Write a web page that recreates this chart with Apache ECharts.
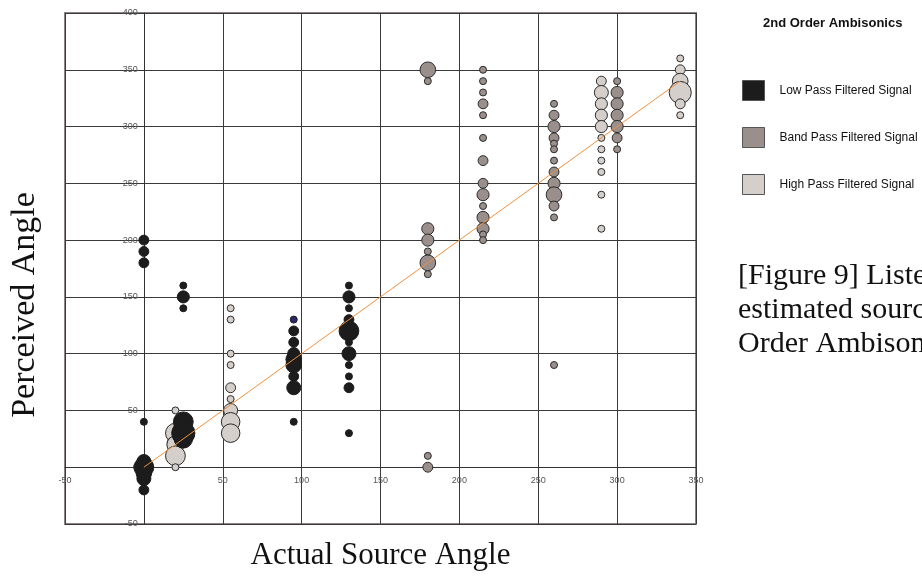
<!DOCTYPE html>
<html>
<head>
<meta charset="utf-8">
<title>2nd Order Ambisonics</title>
<script src="https://cdn.jsdelivr.net/npm/echarts@6/dist/echarts.min.js"></script>
<style>
  html, body { margin: 0; padding: 0; background: #fff; }
  #chart { width: 922px; height: 577px; }
</style>
</head>
<body>
<div id="chart"></div>
<script>
  // [actual source angle, perceived angle, number of answers]
  const lowPass = [
    [0, 200, 2], [0, 190, 2], [0, 180, 2], [0, 40, 1],
    [0, 5, 4], [0, 0, 8], [0, -5, 5], [0, -10, 4], [0, -20, 2],
    [25, 160, 1], [25, 150, 3], [25, 140, 1],
    [25, 40, 8], [25, 35, 7], [25, 30, 11], [25, 25, 7],
    [95, 120, 2], [95, 110, 2], [95, 100, 3], [95, 95, 5], [95, 90, 5],
    [95, 80, 2], [95, 70, 4], [95, 40, 1],
    [130, 160, 1], [130, 150, 3], [130, 140, 1], [130, 130, 2], [130, 120, 8],
    [130, 110, 1], [130, 100, 4], [130, 90, 1], [130, 80, 1], [130, 70, 2], [130, 30, 1]
  ];
  const bandPass = [
    [180, 350, 5], [180, 340, 1], [180, 210, 3], [180, 200, 3], [180, 190, 1],
    [180, 180, 5], [180, 170, 1], [180, 10, 1], [180, 0, 2],
    [215, 350, 1], [215, 340, 1], [215, 330, 1], [215, 320, 2], [215, 310, 1],
    [215, 290, 1], [215, 270, 2], [215, 250, 2], [215, 240, 3], [215, 230, 1],
    [215, 220, 3], [215, 210, 3], [215, 205, 1], [215, 200, 1],
    [260, 320, 1], [260, 310, 2], [260, 300, 3], [260, 290, 2], [260, 285, 1],
    [260, 280, 1], [260, 270, 1], [260, 260, 2], [260, 250, 3], [260, 240, 5],
    [260, 230, 2], [260, 220, 1], [260, 90, 1],
    [300, 340, 1], [300, 330, 3], [300, 320, 3], [300, 310, 3], [300, 300, 3],
    [300, 290, 2], [300, 280, 1]
  ];
  const highPass = [
    [20, 50, 1], [20, 30, 8], [20, 20, 6], [20, 10, 8], [20, 0, 1],
    [55, 140, 1], [55, 130, 1], [55, 100, 1], [55, 90, 1], [55, 70, 2],
    [55, 60, 1], [55, 50, 4], [55, 40, 7], [55, 30, 7],
    [290, 340, 2], [290, 330, 4], [290, 320, 3], [290, 310, 3], [290, 300, 3],
    [290, 290, 1], [290, 280, 1], [290, 270, 1], [290, 260, 1], [290, 240, 1], [290, 210, 1],
    [340, 360, 1], [340, 350, 2], [340, 340, 5], [340, 330, 10], [340, 320, 2], [340, 310, 1]
  ];
  const strayPoint = [[95, 130, 1]];
  const idealLine = [[0, 0], [340, 340]];
  const xRange = [-50, 350];
  const yRange = [-50, 400];
  const seriesNames = ['Low Pass Filtered Signal', 'Band Pass Filtered Signal', 'High Pass Filtered Signal'];
  const captionLines = ["[Figure 9] Listeners'", 'estimated source angles for 2nd', 'Order Ambisonics'];

  let myChart = echarts.init(document.getElementById('chart'))

  const gridBox = { left: 65, right: 226, top: 13, bottom: 53 };
  const plotW = 922 - gridBox.left - gridBox.right;
  const plotH = 577 - gridBox.top - gridBox.bottom;
  // axes cross at zero: shift them in from the grid edge
  const xAxisShift = -plotH * (0 - yRange[0]) / (yRange[1] - yRange[0]);
  const yAxisShift = -plotW * (0 - xRange[0]) / (xRange[1] - xRange[0]);

  const bubbleSize = function (v) {
    return 7 * Math.sqrt(v[2]);
  };

  let option = {
    animation: false,
    title: {
      text: '2nd Order Ambisonics',
      left: 758,
      top: 12,
      textStyle: { fontFamily: 'Liberation Sans', fontSize: 13, fontWeight: 'bold', color: '#111' }
    },
    legend: {
      data: seriesNames,
      orient: 'vertical',
      left: 737,
      top: 75,
      itemWidth: 22,
      itemHeight: 20,
      itemGap: 26,
      icon: 'rect',
      itemStyle: { borderColor: '#555', borderWidth: 1 },
      textStyle: { fontFamily: 'Liberation Sans', fontSize: 12, color: '#111', padding: [0, 0, 0, 10] }
    },
    grid: {
      left: gridBox.left,
      right: gridBox.right,
      top: gridBox.top,
      bottom: gridBox.bottom,
      containLabel: false,
      outerBoundsMode: 'none',
      show: true,
      borderColor: '#8c8482',
      borderWidth: 2
    },
    xAxis: {
      type: 'value',
      min: xRange[0],
      max: xRange[1],
      interval: 50,
      offset: xAxisShift,
      name: 'Actual Source Angle',
      nameLocation: 'middle',
      nameGap: 73,
      nameTextStyle: { fontFamily: 'Liberation Serif', fontSize: 31, color: '#111' },
      axisLine: { onZero: false, lineStyle: { color: '#333' } },
      axisTick: { show: false },
      axisLabel: { fontFamily: 'Liberation Sans', fontSize: 9, color: '#555', margin: 9 },
      splitLine: { lineStyle: { color: '#3a3a3a', width: 1 } }
    },
    yAxis: {
      type: 'value',
      min: yRange[0],
      max: yRange[1],
      interval: 50,
      offset: yAxisShift,
      axisLine: { onZero: false, lineStyle: { color: '#333' } },
      axisTick: { show: true, length: 4, lineStyle: { color: '#333' } },
      axisLabel: { fontFamily: 'Liberation Sans', fontSize: 9, color: '#555', margin: 6 },
      splitLine: { lineStyle: { color: '#3a3a3a', width: 1 } }
    },
    graphic: [
      {
        type: 'text',
        x: 25,
        y: 305,
        rotation: Math.PI / 2,
        style: {
          text: 'Perceived Angle',
          font: '34px "Liberation Serif"',
          fill: '#111',
          align: 'center',
          verticalAlign: 'middle'
        }
      },
      {
        type: 'text',
        left: 738,
        top: 259,
        style: {
          text: captionLines.join('\n'),
          font: '30px "Liberation Serif"',
          lineHeight: 34,
          fill: '#111'
        }
      }
    ],
    series: [
      {
        name: seriesNames[2],
        type: 'scatter',
        data: highPass,
        z: 2,
        symbolSize: bubbleSize,
        itemStyle: { color: '#d5cfcc', borderColor: '#2a2a2a', borderWidth: 1, opacity: 1 }
      },
      {
        name: seriesNames[1],
        type: 'scatter',
        data: bandPass,
        z: 3,
        symbolSize: bubbleSize,
        itemStyle: { color: '#9b8f8c', borderColor: '#2a2a2a', borderWidth: 1, opacity: 1 }
      },
      {
        name: seriesNames[0],
        type: 'scatter',
        data: lowPass,
        z: 4,
        symbolSize: bubbleSize,
        itemStyle: { color: '#1c1c1c', borderColor: '#1c1c1c', borderWidth: 1, opacity: 1 }
      },
      {
        name: 'stray',
        type: 'scatter',
        data: strayPoint,
        z: 4,
        symbolSize: bubbleSize,
        itemStyle: { color: '#2c2a6e', borderColor: '#1c1c1c', borderWidth: 1, opacity: 1 }
      },
      {
        name: 'ideal',
        type: 'line',
        data: idealLine,
        z: 6,
        symbol: 'none',
        silent: true,
        lineStyle: { color: '#f0903c', width: 1 }
      }
    ]
  };

  myChart.setOption(option)
</script>
</body>
</html>
